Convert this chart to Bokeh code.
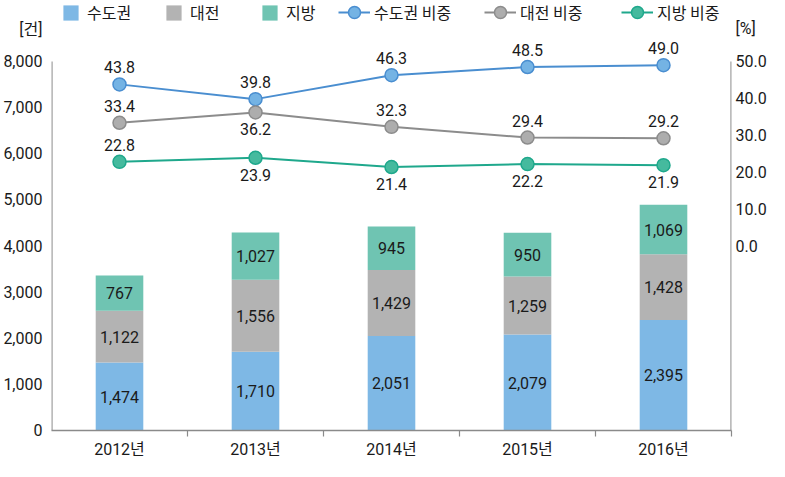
from bokeh.plotting import figure
from bokeh.models import (ColumnDataSource, LinearAxis, Range1d, FixedTicker,
                          NumeralTickFormatter, Legend, LegendItem)
from bokeh.core.properties import value
from bokeh.embed import file_html
from bokeh.resources import INLINE

# ---------------- data ----------------
years = ["2012년", "2013년", "2014년", "2015년", "2016년"]
metro = [1474, 1710, 2051, 2079, 2395]
daejeon = [1122, 1556, 1429, 1259, 1428]
local = [767, 1027, 945, 950, 1069]
metro_share = [43.8, 39.8, 46.3, 48.5, 49.0]
daejeon_share = [33.4, 36.2, 32.3, 29.4, 29.2]
local_share = [22.8, 23.9, 21.4, 22.2, 21.9]
left_ticks = [0, 1000, 2000, 3000, 4000, 5000, 6000, 7000, 8000]
right_ticks = [0, 10, 20, 30, 40, 50]
right_min = -50
bar_names = ["수도권", "대전", "지방"]
line_names = ["수도권 비중", "대전 비중", "지방 비중"]
left_unit = "[건]"
right_unit = "[%]"
# label placement: 1 = above the point, -1 = below
metro_place = [1, 1, 1, 1, 1]
daejeon_place = [1, -1, 1, 1, 1]
local_place = [1, -1, -1, -1, -1]

# ---------------- styling / layout ----------------
FONT = "Roboto, 'Noto Sans CJK KR', sans-serif"
KFONT = "'Noto Sans CJK KR', sans-serif"
TXT = "#1A1A1A"
bar_colors = ["#7EB8E5", "#B3B3B3", "#6FC4B2"]
line_colors = ["#4A8ED0", "#8C8C8C", "#1FA88C"]
marker_fill = ["#74B3E4", "#ADADAD", "#45BA9E"]

W, H = 769, 461
ORIGIN = 0
BL, BR, BT, BB = 51, 38, 0, 31
FRAME_W = W - BL - BR
FRAME_H = H - BT - BB
FRAME_LEFT_WIN = ORIGIN + BL
FRAME_BOTTOM_WIN = ORIGIN + BT + FRAME_H
AXIS_TOP_WIN = 61
UNIT_WIN = 29
AXIS_PX = FRAME_BOTTOM_WIN - AXIS_TOP_WIN
lmax = left_ticks[-1]
rmax = right_ticks[-1]
y_end = lmax * FRAME_H / AXIS_PX
pct_span = rmax - right_min
pct_end = right_min + pct_span * FRAME_H / AXIS_PX
unit_left = round((FRAME_BOTTOM_WIN - UNIT_WIN) / AXIS_PX * lmax)
unit_right = round(right_min + (FRAME_BOTTOM_WIN - UNIT_WIN) / AXIS_PX * pct_span)
NCAT = len(years)

p = figure(width=W, height=H, output_backend="svg", toolbar_location=None,
           x_range=Range1d(0, NCAT), y_range=Range1d(0, y_end),
           min_border_left=BL, min_border_right=BR, min_border_top=BT,
           min_border_bottom=BB, outline_line_color=None,
           background_fill_color="white", border_fill_color="white")
p.extra_y_ranges = {"pct": Range1d(right_min, pct_end)}
p.xgrid.visible = False
p.ygrid.visible = False

xs = [i + 0.5 for i in range(NCAT)]

# ---------------- stacked bars ----------------
src = ColumnDataSource(dict(x=xs, metro=metro, daejeon=daejeon, local=local))
bars = p.vbar_stack(["metro", "daejeon", "local"], x="x", width=0.35,
                    color=bar_colors, line_color=None, source=src)

lab_x, lab_y, lab_t = [], [], []
for i in range(NCAT):
    base = 0
    for vals in (metro, daejeon, local):
        lab_x.append(xs[i])
        lab_y.append(base + vals[i] / 2)
        lab_t.append(f"{vals[i]:,}")
        base += vals[i]
p.text(x=lab_x, y=lab_y, text=lab_t, text_font=value(FONT), text_font_size="16px",
       text_align="center", text_baseline="middle", text_color=TXT)

# ---------------- axis lines (drawn so that they stop at the last tick) ----------------
p.segment(x0=[0], y0=[left_ticks[0]], x1=[0], y1=[lmax],
          line_color="#A0A0A0", line_width=2.4)
p.segment(x0=[NCAT], y0=[right_min], x1=[NCAT], y1=[rmax], y_range_name="pct",
          line_color="#A0A0A0", line_width=2.4)

# ---------------- share lines ----------------
line_rends = []
for share, place, lc, mf in ((metro_share, metro_place, line_colors[0], marker_fill[0]),
                             (daejeon_share, daejeon_place, line_colors[1], marker_fill[1]),
                             (local_share, local_place, line_colors[2], marker_fill[2])):
    l = p.line(xs, share, y_range_name="pct", line_color=lc, line_width=2)
    s = p.scatter(xs, share, y_range_name="pct", size=13, fill_color=mf,
                  line_color=lc, line_width=1.5)
    p.text(x=xs, y=share, text=[f"{v:.1f}" for v in share], y_range_name="pct",
           y_offset=[-17 if a > 0 else 17 for a in place],
           text_font=value(FONT), text_font_size="16px", text_align="center",
           text_baseline="middle", text_color=TXT)
    line_rends.append((l, s))

# ---------------- axes ----------------
def style_axis(ax):
    ax.major_label_text_font = FONT
    ax.major_label_text_font_size = "16px"
    ax.major_label_text_color = TXT
    ax.major_tick_line_color = None
    ax.minor_tick_line_color = None
    ax.major_tick_out = 0
    ax.major_tick_in = 0
    ax.minor_tick_out = 0
    ax.minor_tick_in = 0

yl = p.yaxis[0]
yl.ticker = FixedTicker(ticks=left_ticks + [unit_left])
yl.formatter = NumeralTickFormatter(format="0,0")
yl.major_label_overrides = {unit_left: left_unit}
yl.bounds = (0, unit_left)
style_axis(yl)
yl.axis_line_color = None
yl.major_label_standoff = 9

yr = LinearAxis(y_range_name="pct", ticker=FixedTicker(ticks=right_ticks + [unit_right]),
                formatter=NumeralTickFormatter(format="0.0"),
                bounds=(right_min, unit_right))
yr.major_label_overrides = {unit_right: right_unit}
style_axis(yr)
yr.axis_line_color = None
yr.major_label_standoff = 4
p.add_layout(yr, "right")

xa = p.xaxis[0]
xa.ticker = FixedTicker(ticks=xs, minor_ticks=[i + 1 for i in range(NCAT)])
xa.major_label_overrides = {x: y for x, y in zip(xs, years)}
style_axis(xa)
xa.axis_line_color = "#8A8A8A"
xa.axis_line_width = 1.5
xa.minor_tick_line_color = "#8A8A8A"
xa.minor_tick_line_width = 1.2
xa.minor_tick_out = 6
xa.major_label_standoff = 3

# ---------------- legends ----------------
def add_legend(label, rends, xwin, gw, gh, box_h, standoff):
    leg = Legend(items=[LegendItem(label=label, renderers=rends)],
                 location=(xwin - FRAME_LEFT_WIN, FRAME_H - box_h),
                 orientation="horizontal",
                 glyph_width=gw, glyph_height=gh, label_standoff=standoff,
                 padding=0, margin=0, spacing=0, border_line_color=None,
                 background_fill_alpha=0, label_text_font=KFONT,
                 label_text_font_size="16px", label_text_color=TXT)
    p.add_layout(leg)

for name, r, xw in zip(bar_names, bars, (61, 164, 260)):
    add_legend(name, [r], xw, 19, 19, 24, 7)
for name, (l, s), xw in zip(line_names, line_rends, (338, 484, 621)):
    add_legend(name, [l, s], xw, 32, 30, 27, 4)

open("out.html", "w").write(file_html(p, INLINE))
